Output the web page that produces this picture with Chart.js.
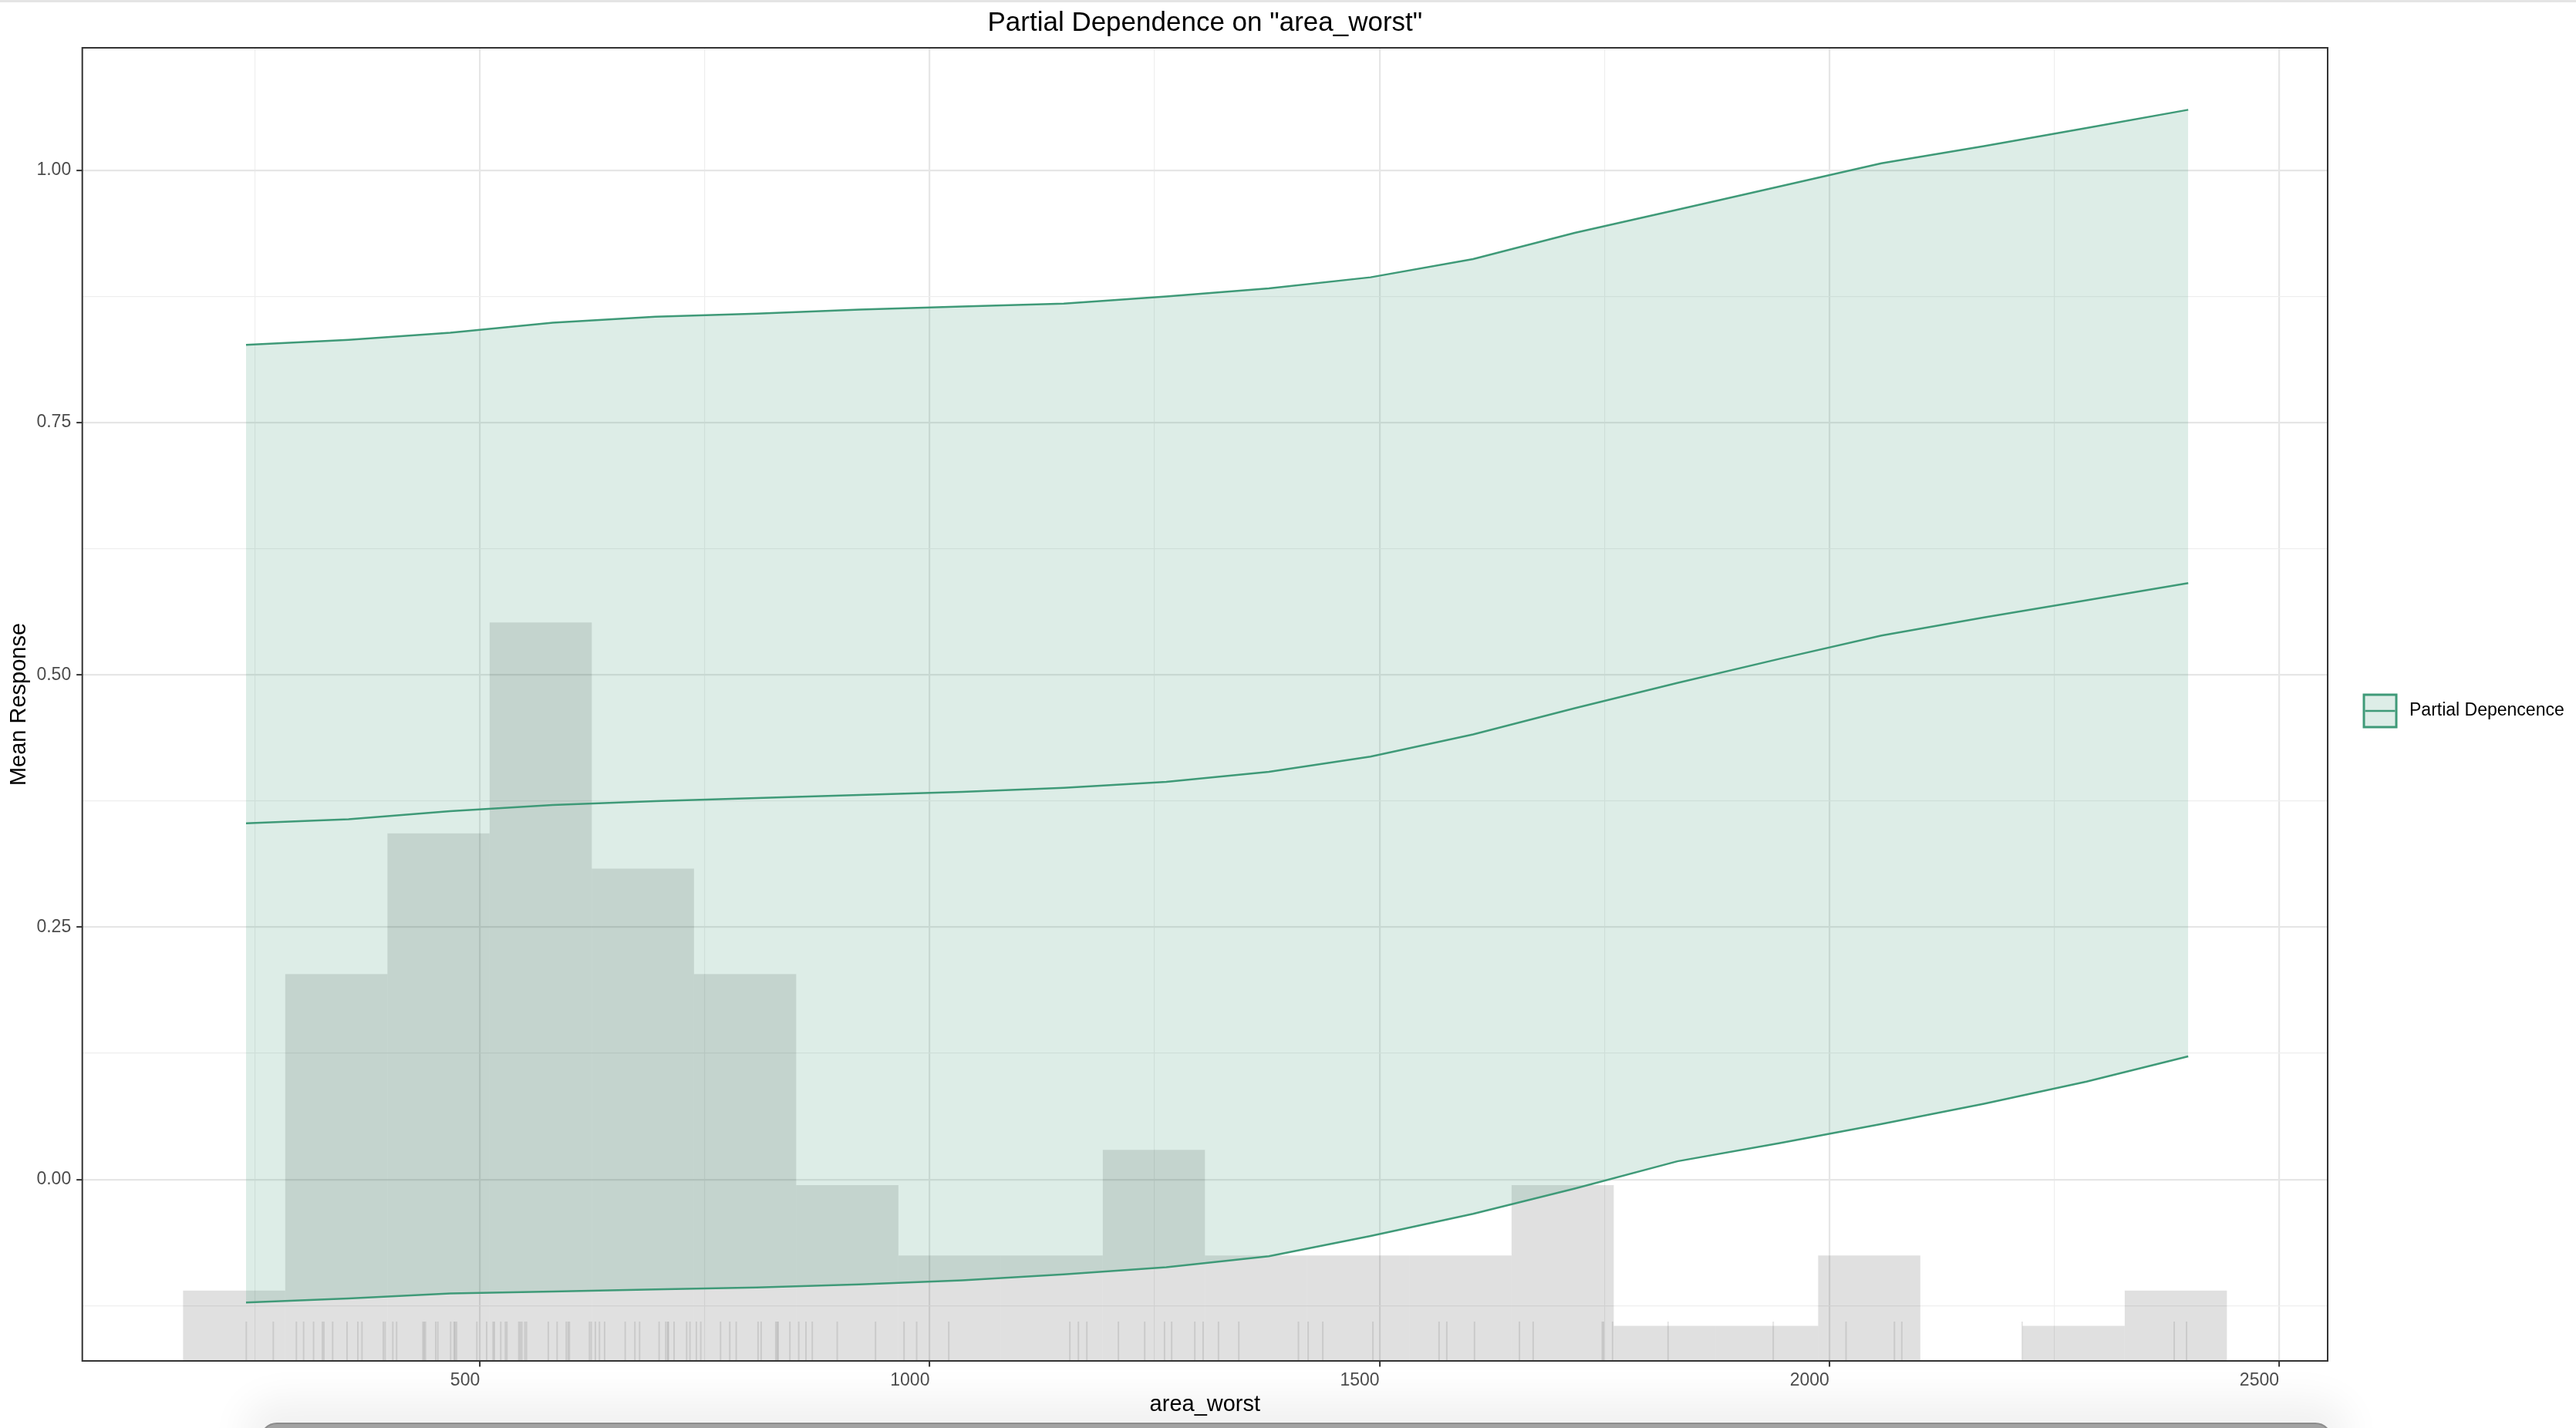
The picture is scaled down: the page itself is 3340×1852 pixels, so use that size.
<!DOCTYPE html>
<html>
<head>
<meta charset="utf-8">
<script src="https://cdn.jsdelivr.net/npm/chart.js@4.4.1/dist/chart.umd.min.js"></script>
<style>
html,body{margin:0;padding:0;background:#fff;overflow:hidden;width:3340px;height:1852px;}
#wrap{position:relative;width:3340px;height:1852px;}
canvas{display:block;}
.topline{position:absolute;left:0;top:0;width:3340px;height:3px;background:#e4e4e4;}
.pill{position:absolute;left:337px;top:1845px;width:2683px;height:40px;border-radius:22px;background:#a2a2a2;border:2px solid #8c8c8c;box-shadow:0 -8px 50px 22px rgba(0,0,0,0.06);}
</style>
</head>
<body>
<div id="wrap">
<canvas id="c" width="3340" height="1852"></canvas>
<div class="topline"></div>
<div class="pill"></div>
</div>
<script>
// ---- text ----
const TITLE = 'Partial Dependence on "area_worst"';
const X_TITLE = 'area_worst';
const Y_TITLE = 'Mean Response';
const LEGEND_LABEL = 'Partial Depencence';

// ---- partial dependence grid ----
const pdX     = [240, 354, 467, 581, 695, 808, 922, 1036, 1149, 1263, 1377, 1490, 1604, 1717, 1831, 1945, 2058, 2172, 2286, 2399];
const pdMean  = [0.353, 0.357, 0.365, 0.371, 0.375, 0.378, 0.381, 0.384, 0.388, 0.394, 0.404, 0.419, 0.441, 0.467, 0.492, 0.516, 0.539, 0.557, 0.574, 0.591];
const pdUpper = [0.827, 0.832, 0.839, 0.849, 0.855, 0.858, 0.862, 0.865, 0.868, 0.875, 0.883, 0.894, 0.912, 0.938, 0.961, 0.984, 1.007, 1.024, 1.042, 1.060];
const pdLower = [-0.122, -0.118, -0.113, -0.111, -0.109, -0.107, -0.104, -0.100, -0.094, -0.087, -0.076, -0.056, -0.034, -0.009, 0.018, 0.036, 0.055, 0.075, 0.097, 0.122];

// ---- histogram of area_worst ----
const binEdges  = [170, 283.6, 397.2, 510.8, 624.4, 738, 851.6, 965.2, 1078.8, 1192.4, 1306, 1419.6, 1533.2, 1646.8, 1760.4, 1874, 1987.6, 2101.2, 2214.8, 2328.4, 2442];
const binCounts = [2, 11, 15, 21, 14, 11, 5, 3, 3, 6, 3, 3, 3, 5, 1, 1, 3, 0, 1, 2];

// ---- rug (observations) ----
const rugX = [240.3, 270.3, 296.0, 304.0, 315.1, 324.9, 326.6, 336.3, 352.3, 364.3, 368.9, 392.6, 394.6,
  403.2, 407.4, 436.6, 438.0, 439.5, 450.9, 453.2, 467.5, 471.2, 472.3, 474.0, 496.6, 507.5,
  514.6, 516.0, 523.2, 528.3, 530.0, 543.2, 544.9, 546.6, 550.0, 551.8, 576.0, 585.8, 596.0, 598.0, 599.5, 621.8, 623.8,
  628.3, 632.9, 638.6, 661.5, 672.3, 677.5, 699.2, 706.6, 708.6, 709.5, 715.8, 729.8, 733.5,
  740.6, 745.5, 767.5, 777.8, 784.9, 809.2, 812.6, 828.9, 830.4, 831.5, 844.6,
  854.4, 862.4, 869.5, 897.2, 939.8, 971.5, 985.5, 1021.2, 1155.8, 1165.3, 1174.7,
  1209.8, 1239.0, 1261.0, 1269.0, 1294.7, 1303.9, 1321.0, 1343.6, 1409.9, 1420.7, 1437.0, 1492.7,
  1566.2, 1574.8, 1605.6, 1655.6, 1670.8, 1747.6, 1749.0, 1759.1, 1820.8, 1937.7, 2018.6, 2072.4, 2080.6,
  2214.4, 2383.4, 2397.2];

// ---- axes ----
const xMajorTicks = [500, 1000, 1500, 2000, 2500];
const xMinorTicks = [250, 750, 1250, 1750, 2250];
const yMajorTicks = [0, 0.25, 0.5, 0.75, 1.0];
const yMinorTicks = [-0.125, 0.125, 0.375, 0.625, 0.875];
const X_RANGE = [58, 2554];
const Y_RANGE = [-0.1798, 1.1214];
const COUNT_TO_Y = 0.03485;   // histogram: y-units per observation
const RUG_FRACTION = 0.03;    // rug length as fraction of panel

// ---- style ----
const LINE_COLOR = '#3f9a78';
const RIBBON_COLOR = 'rgba(64,154,120,0.18)';
const HIST_COLOR = 'rgba(0,0,0,0.12)';
const RUG_COLOR = 'rgba(0,0,0,0.10)';
const FONT = '"Liberation Sans", Arial, Helvetica, sans-serif';

Chart.defaults.font.family = FONT;

const pts = ys => pdX.map((x, i) => ({x: x, y: ys[i]}));
const histData = binCounts.map((c, i) => ({
  x: (binEdges[i] + binEdges[i + 1]) / 2,
  y: [Y_RANGE[0], Y_RANGE[0] + c * COUNT_TO_Y]
}));
const rugTop = Y_RANGE[0] + RUG_FRACTION * (Y_RANGE[1] - Y_RANGE[0]);
const rugData = rugX.map(v => ({x: v, y: [Y_RANGE[0], rugTop]}));

const isIn = (arr, v) => arr.some(a => Math.abs(a - v) < 1e-9);

const panelBorder = {
  id: 'panelBorder',
  afterDatasetsDraw(chart) {
    const {ctx, chartArea: a} = chart;
    ctx.save();
    ctx.strokeStyle = '#333333';
    ctx.lineWidth = 2;
    ctx.strokeRect(a.left, a.top, a.right - a.left, a.bottom - a.top);
    ctx.restore();
  }
};

const customLegend = {
  id: 'customLegend',
  afterDraw(chart) {
    const {ctx, chartArea: a} = chart;
    const bx = a.right + 47, size = 42;
    const cy = chart.height / 2 - 4;
    const by = cy - size / 2;
    ctx.save();
    ctx.fillStyle = '#ffffff';
    ctx.fillRect(bx, by, size, size);
    ctx.fillStyle = RIBBON_COLOR;
    ctx.fillRect(bx, by, size, size);
    ctx.strokeStyle = LINE_COLOR;
    ctx.lineWidth = 3;
    ctx.strokeRect(bx, by, size, size);
    ctx.lineWidth = 2.6;
    ctx.beginPath();
    ctx.moveTo(bx + 1.5, cy);
    ctx.lineTo(bx + size - 1.5, cy);
    ctx.stroke();
    ctx.fillStyle = '#000000';
    ctx.font = '23px ' + FONT;
    ctx.textBaseline = 'middle';
    ctx.textAlign = 'left';
    ctx.fillText(LEGEND_LABEL, bx + size + 17, cy);
    ctx.restore();
  }
};

const lineDs = (label, ys, extra) => Object.assign({
  type: 'line', label: label, data: pts(ys), xAxisID: 'x', yAxisID: 'y',
  borderColor: LINE_COLOR, borderWidth: 2.5, pointRadius: 0, tension: 0, fill: false
}, extra || {});

const gridOpts = (majors) => ({
  offset: false, drawOnChartArea: true, drawTicks: true, tickLength: 7.5, tickWidth: 2,
  color: c => (c.tick && isIn(majors, c.tick.value)) ? '#e6e6e6' : '#eeeeee',
  lineWidth: c => (c.tick && isIn(majors, c.tick.value)) ? 2.2 : 1.2,
  tickColor: c => (c.tick && isIn(majors, c.tick.value)) ? '#333333' : 'rgba(0,0,0,0)'
});

new Chart(document.getElementById('c'), {
  type: 'line',
  data: {
    datasets: [
      {
        type: 'bar', label: 'histogram', data: histData, xAxisID: 'x', yAxisID: 'y',
        backgroundColor: HIST_COLOR, borderWidth: 0, barPercentage: 1, categoryPercentage: 1,
        grouped: false, inflateAmount: 0, order: 10
      },
      lineDs('lower', pdLower, {order: 4}),
      lineDs('upper', pdUpper, {order: 5, fill: {target: 1}, backgroundColor: RIBBON_COLOR}),
      lineDs('mean', pdMean, {order: 3}),
      {
        type: 'bar', label: 'rug', data: rugData, xAxisID: 'xr', yAxisID: 'y',
        backgroundColor: RUG_COLOR, borderWidth: 0, barThickness: 2, grouped: false,
        inflateAmount: 0, order: 1
      }
    ]
  },
  options: {
    responsive: false,
    devicePixelRatio: 1,
    animation: false,
    events: [],
    layout: {padding: {left: 0, right: 322, top: 0, bottom: 0}},
    plugins: {
      legend: {display: false},
      tooltip: {enabled: false},
      title: {
        display: true, text: TITLE, fullSize: false, color: '#000000',
        font: {size: 35, weight: 'normal', family: FONT},
        padding: {top: 9, bottom: 11}
      }
    },
    scales: {
      x: {
        type: 'linear', position: 'bottom', min: X_RANGE[0], max: X_RANGE[1], offset: false,
        afterFit: s => { s.height = 87; },
        afterBuildTicks: s => {
          s.ticks = xMinorTicks.concat(xMajorTicks).sort((a, b) => a - b).map(v => ({value: v}));
        },
        ticks: {
          autoSkip: false, maxRotation: 0, minRotation: 0, padding: 4, align: 'end',
          color: '#4d4d4d', font: {size: 23},
          callback: v => isIn(xMajorTicks, v) ? String(v) : ''
        },
        grid: gridOpts(xMajorTicks),
        border: {display: false},
        title: {
          display: true, text: X_TITLE, color: '#000000',
          font: {size: 29}, padding: {top: 0, bottom: 12.5}
        }
      },
      xr: {
        type: 'linear', display: false, min: X_RANGE[0], max: X_RANGE[1], offset: false,
        grid: {display: false, offset: false}
      },
      y: {
        type: 'linear', position: 'left', min: Y_RANGE[0], max: Y_RANGE[1], beginAtZero: false,
        afterFit: s => { s.width = 106.7; },
        afterBuildTicks: s => {
          s.ticks = yMinorTicks.concat(yMajorTicks).sort((a, b) => a - b).map(v => ({value: v}));
        },
        ticks: {
          autoSkip: false, padding: 7, color: '#4d4d4d', font: {size: 23},
          callback: v => isIn(yMajorTicks, v) ? v.toFixed(2) : ''
        },
        grid: gridOpts(yMajorTicks),
        border: {display: false},
        title: {
          display: true, text: Y_TITLE, color: '#000000',
          font: {size: 29}, padding: {top: 8, bottom: 0}
        }
      }
    }
  },
  plugins: [panelBorder, customLegend]
});
</script>
</body>
</html>
